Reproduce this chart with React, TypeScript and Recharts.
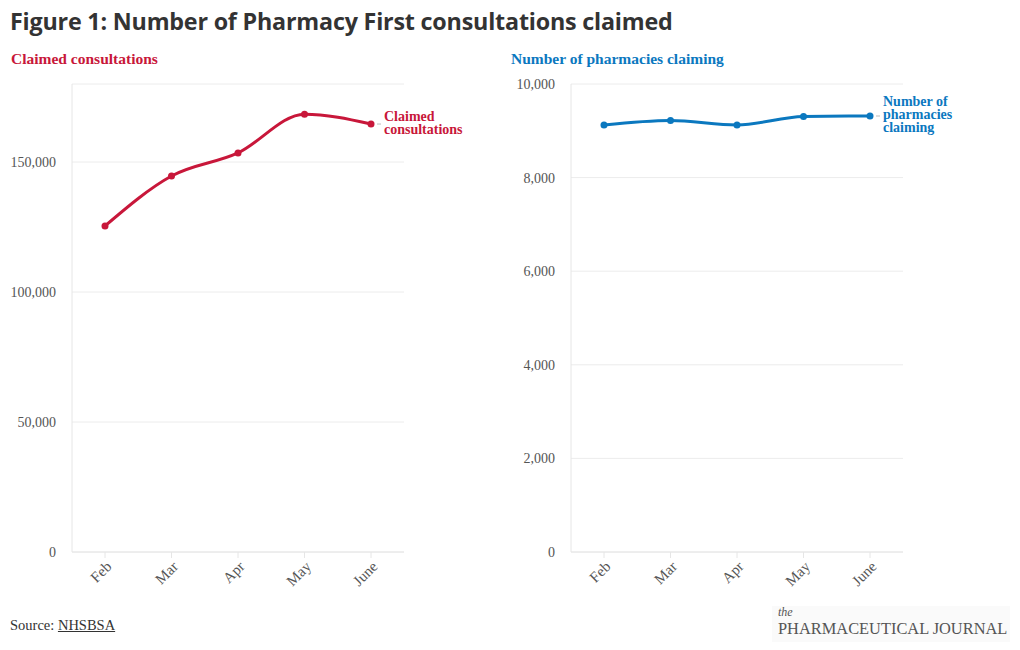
import { CartesianGrid, Line, LineChart, XAxis, YAxis, LabelList } from "recharts";

const months = ["Feb", "Mar", "Apr", "May", "June"];
const consultations = [125400, 144600, 153500, 168400, 164600];
const pharmacies = [9124, 9220, 9124, 9306, 9316];

const consultTicks = [0, 50000, 100000, 150000];
const pharmacyTicks = [0, 2000, 4000, 6000, 8000, 10000];

const RED = "#c8173a";
const BLUE = "#0b78bf";
const SERIF = "'Liberation Serif', 'DejaVu Serif', serif";

const consultData = months.map((m, i) => ({ month: m, value: consultations[i] }));
const pharmacyData = months.map((m, i) => ({ month: m, value: pharmacies[i] }));

const fmt = (v: number) => v.toLocaleString("en-US");

function EndLabel(lines: string[], color: string, lastIndex: number) {
  return (props: any) => {
    const { x, y, index } = props;
    if (index !== lastIndex) return null;
    const top = y - ((lines.length - 1) * 13) / 2;
    return (
      <g>
        <line x1={x + 6} x2={x + 10} y1={y} y2={y} stroke="#bbb" strokeWidth={1} />
        <text
          x={x + 13}
          y={top}
          fill={color}
          fontFamily={SERIF}
          fontWeight={700}
          fontSize={14}
          dominantBaseline="middle"
        >
          {lines.map((l, i) => (
            <tspan key={i} x={x + 13} dy={i === 0 ? 0 : 13}>
              {l}
            </tspan>
          ))}
        </text>
      </g>
    );
  };
}

function Panel({
  data,
  ticks,
  max,
  color,
  labelLines,
  marginLeft,
  marginRight,
}: {
  data: { month: string; value: number }[];
  ticks: number[];
  max: number;
  color: string;
  labelLines: string[];
  marginLeft: number;
  marginRight: number;
}) {
  return (
    <LineChart
      width={500}
      height={620}
      data={data}
      margin={{ top: 84, right: marginRight, left: marginLeft, bottom: 18 }}
    >
      <CartesianGrid vertical={false} stroke="#ececec" />
      <XAxis
        dataKey="month"
        padding={{ left: 33, right: 33 }}
        height={50}
        stroke="#e6e6e6"
        tickLine={{ stroke: "#e6e6e6" }}
        tickSize={6}
        interval={0}
        angle={-45}
        textAnchor="end"
        tick={{ fontSize: 15, fill: "#555", fontFamily: SERIF }}
      />
      <YAxis
        width={60}
        domain={[0, max]}
        ticks={ticks}
        tickFormatter={fmt}
        stroke="#e6e6e6"
        tickLine={false}
        tickMargin={10}
        tick={{ fontSize: 14, fill: "#555", fontFamily: SERIF }}
      />
      <Line
        type="monotone"
        dataKey="value"
        stroke={color}
        strokeWidth={3}
        dot={{ r: 3.5, fill: color, stroke: color, strokeWidth: 0 }}
        activeDot={false}
        isAnimationActive={false}
      >
        <LabelList dataKey="value" content={EndLabel(labelLines, color, data.length - 1)} />
      </Line>
    </LineChart>
  );
}

export default function App() {
  return (
    <div
      style={{
        position: "absolute",
        left: 0,
        top: 0,
        width: 1020,
        height: 650,
        background: "#fff",
        overflow: "hidden",
      }}
    >
      <div
        style={{
          position: "absolute",
          left: 10,
          top: 5,
          fontFamily: "'Open Sans', sans-serif",
          fontWeight: 700,
          fontSize: 23.3,
          color: "#333",
          letterSpacing: -0.2,
          whiteSpace: "nowrap",
        }}
      >
        Figure 1: Number of Pharmacy First consultations claimed
      </div>
      <div
        style={{
          position: "absolute",
          left: 11,
          top: 50,
          fontFamily: SERIF,
          fontWeight: 700,
          fontSize: 15.5,
          color: RED,
        }}
      >
        Claimed consultations
      </div>
      <div
        style={{
          position: "absolute",
          left: 511,
          top: 50,
          fontFamily: SERIF,
          fontWeight: 700,
          fontSize: 15.5,
          color: BLUE,
        }}
      >
        Number of pharmacies claiming
      </div>
      <div style={{ position: "absolute", left: 0, top: 0 }}>
        <Panel
          data={consultData}
          ticks={consultTicks}
          max={180000}
          color={RED}
          labelLines={["Claimed", "consultations"]}
          marginLeft={12}
          marginRight={96}
        />
      </div>
      <div style={{ position: "absolute", left: 500, top: 0 }}>
        <Panel
          data={pharmacyData}
          ticks={pharmacyTicks}
          max={10000}
          color={BLUE}
          labelLines={["Number of", "pharmacies", "claiming"]}
          marginLeft={11}
          marginRight={97}
        />
      </div>
      <div
        style={{
          position: "absolute",
          left: 10,
          top: 617,
          fontFamily: SERIF,
          fontSize: 14.5,
          color: "#333",
        }}
      >
        Source: <span style={{ textDecoration: "underline" }}>NHSBSA</span>
      </div>
      <div
        style={{
          position: "absolute",
          left: 772,
          top: 606,
          width: 238,
          height: 36,
          background: "#fafafa",
        }}
      />
      <div
        style={{
          position: "absolute",
          left: 778,
          top: 606,
          fontFamily: SERIF,
          fontStyle: "italic",
          fontSize: 12,
          lineHeight: "13px",
          color: "#555",
        }}
      >
        the
      </div>
      <div
        style={{
          position: "absolute",
          left: 778,
          top: 620,
          fontFamily: SERIF,
          fontSize: 16.4,
          lineHeight: "18px",
          color: "#555",
          whiteSpace: "nowrap",
        }}
      >
        PHARMACEUTICAL JOURNAL
      </div>
    </div>
  );
}
